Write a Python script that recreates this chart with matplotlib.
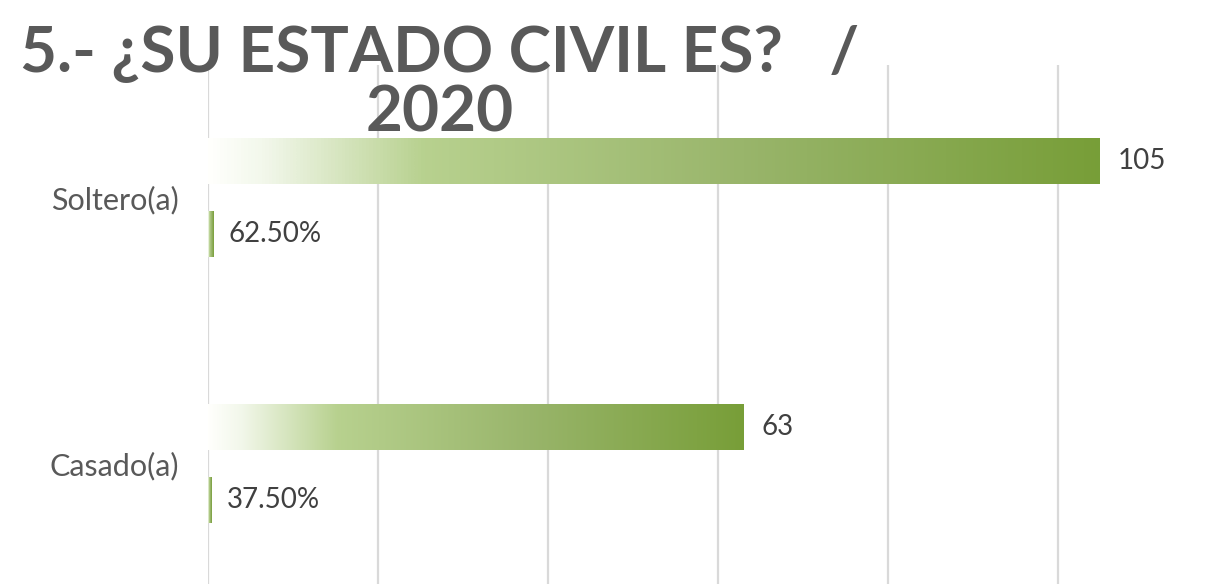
import numpy as np
import matplotlib
matplotlib.use("Agg")
import matplotlib.pyplot as plt
from matplotlib.colors import LinearSegmentedColormap

# Data
categories = ["Soltero(a)", "Casado(a)"]
counts = [105, 63]
percents = [0.625, 0.375]
count_labels = ["105", "63"]
percent_labels = ["62.50%", "37.50%"]

title = "5.- ¿SU ESTADO CIVIL ES?   /\n2020"

W, H = 1205, 584
fig = plt.figure(figsize=(W / 100, H / 100), dpi=100)

# axes placed in pixel coords: x0 at 208px, top at 65px, bands extend below image
x0, x1 = 208, W
top, bottom = 65, 596
ax = fig.add_axes([x0 / W, 1 - bottom / H, (x1 - x0) / W, (bottom - top) / H])

for s in ax.spines.values():
    s.set_visible(False)
ax.set_xticks(np.arange(0, 121, 20))
ax.xaxis.grid(True, color="#d9d9d9", linewidth=1.6)
ax.set_axisbelow(True)
ax.tick_params(axis="x", length=0, labelbottom=False)
ax.tick_params(axis="y", length=0, pad=21)
ax.set_yticks(range(len(categories)))
ax.set_yticklabels(categories, fontsize=22, color="#595959", family="Lato")

cmap = LinearSegmentedColormap.from_list(
    "grad",
    [(0.0, (1.0, 1.0, 0.99)),
     (0.06, (0.95, 0.97, 0.92)),
     (0.24, (0.72, 0.82, 0.56)),
     (0.6, (0.60, 0.71, 0.42)),
     (1.0, (0.47, 0.62, 0.22))])
grad = np.linspace(0, 1, 256).reshape(1, -1)

bar_h = 0.173
off = 0.137


def grad_bar(y, val):
    ax.imshow(grad, cmap=cmap, aspect="auto", interpolation="bilinear",
              extent=[0, val, y + bar_h / 2, y - bar_h / 2], zorder=2)


for i in range(len(categories)):
    grad_bar(i - off, counts[i])
    grad_bar(i + off, percents[i])
    ax.annotate(count_labels[i], (counts[i], i - off), xytext=(13, 0),
                textcoords="offset points", va="center", ha="left",
                fontsize=20, color="#404040", family="Lato")
    ax.annotate(percent_labels[i], (percents[i], i + off), xytext=(11, 0),
                textcoords="offset points", va="center", ha="left",
                fontsize=20, color="#404040", family="Lato")

ax.set_xlim(0, (x1 - x0) / 8.495)
ax.set_ylim(1.5, -0.5)

fig.text(440 / W, 1 - 83 / H, title, ha="center", va="center",
         fontsize=46, fontweight="bold", color="#595959", family="Lato",
         linespacing=1.05)

fig.savefig("out.png", dpi=100)
